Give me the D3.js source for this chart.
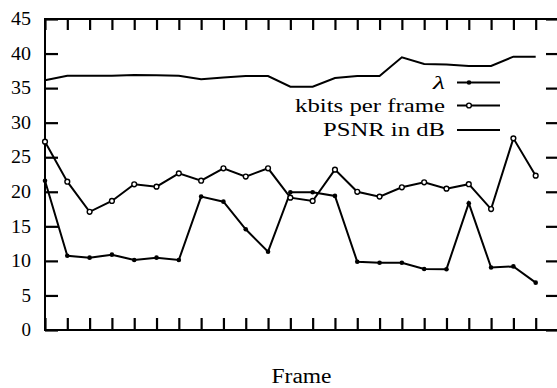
<!DOCTYPE html>
<html><head><meta charset="utf-8">
<script src="https://cdn.jsdelivr.net/npm/d3@7"></script>
<style>html,body{margin:0;padding:0;background:#fff;}svg{display:block;}text{font-family:"Liberation Serif","DejaVu Serif",serif;}</style>
</head><body>
<svg id="c" width="557" height="388"></svg>
<script>
const frames = [0,1,2,3,4,5,6,7,8,9,10,11,12,13,14,15,16,17,18,19,20,21,22];
const lambdaVals = [21.6,10.75,10.47,10.9,10.13,10.47,10.13,19.3,18.57,14.57,11.33,19.93,19.93,19.4,9.88,9.74,9.74,8.83,8.8,18.35,9.05,9.2,6.85];
const kbitsVals = [27.25,21.46,17.1,18.67,21.08,20.74,22.67,21.6,23.4,22.2,23.4,19.15,18.67,23.2,20.0,19.3,20.65,21.37,20.45,21.1,17.5,27.73,22.33];
const psnrVals = [36.15,36.8,36.8,36.8,36.9,36.85,36.8,36.3,36.55,36.75,36.75,35.2,35.2,36.45,36.75,36.75,39.45,38.5,38.4,38.2,38.2,39.55,39.55];
const yTicks = [0,5,10,15,20,25,30,35,40,45];
const xTicks = [0,1,2,3,4,5,6,7,8,9,10,11,12,13,14,15,16,17,18,19,20,21,22,23];
const seriesNames = ["\u03bb","kbits per frame","PSNR in dB"];

const svg = d3.select("#c");
const L = 45, R = 558, T = 19, B = 330;
const x = d3.scaleLinear().domain([0,23]).range([L,R]);
const y = d3.scaleLinear().domain([0,45]).range([B,T]);
const serif = "Liberation Serif, DejaVu Serif, serif";

// left axis with labels, inward ticks
const gl = svg.append("g").attr("transform",`translate(${L},0)`)
  .call(d3.axisLeft(y).tickValues(yTicks).tickSizeInner(-13).tickSizeOuter(0).tickPadding(14).tickFormat(d3.format("d")));
gl.select(".domain").remove();
gl.attr("font-family",serif).attr("font-size",18);
gl.selectAll("line").attr("stroke","#000").attr("stroke-width",2.2);
gl.selectAll("text").attr("font-family",serif).attr("font-size","18px").attr("fill","#000")
  .attr("textLength",d=>d>=10?20:9.5).attr("lengthAdjust","spacingAndGlyphs");

// right axis ticks (inward)
const gr = svg.append("g").attr("transform",`translate(${R},0)`)
  .call(d3.axisRight(y).tickValues(yTicks).tickSizeInner(-12).tickSizeOuter(0).tickFormat(""));
gr.select(".domain").remove();
gr.selectAll("line").attr("stroke","#000").attr("stroke-width",2.2);

// bottom ticks (inward, no labels)
const gb = svg.append("g").attr("transform",`translate(0,${B})`)
  .call(d3.axisBottom(x).tickValues(xTicks).tickSizeInner(-12).tickSizeOuter(0).tickFormat(""));
gb.select(".domain").remove();
gb.selectAll("line").attr("stroke","#000").attr("stroke-width",2.2);

// top ticks (inward)
const gt = svg.append("g").attr("transform",`translate(0,${T})`)
  .call(d3.axisTop(x).tickValues(xTicks).tickSizeInner(-11).tickSizeOuter(0).tickFormat(""));
gt.select(".domain").remove();
gt.selectAll("line").attr("stroke","#000").attr("stroke-width",2.2);

// frame
svg.append("rect").attr("x",L).attr("y",T).attr("width",R-L).attr("height",B-T)
  .attr("fill","none").attr("stroke","#000").attr("stroke-width",2);

const line = d3.line().x((d,i)=>x(frames[i])).y(d=>y(d));

svg.append("path").datum(psnrVals).attr("d",line).attr("fill","none").attr("stroke","#000").attr("stroke-width",2);
svg.append("path").datum(kbitsVals).attr("d",line).attr("fill","none").attr("stroke","#000").attr("stroke-width",2);
svg.append("path").datum(lambdaVals).attr("d",line).attr("fill","none").attr("stroke","#000").attr("stroke-width",2);

svg.append("g").selectAll("circle").data(lambdaVals).join("circle")
  .attr("cx",(d,i)=>x(frames[i])).attr("cy",d=>y(d)).attr("r",2.3).attr("fill","#000");
svg.append("g").selectAll("circle").data(kbitsVals).join("circle")
  .attr("cx",(d,i)=>x(frames[i])).attr("cy",d=>y(d)).attr("r",2.4).attr("fill","#fff").attr("stroke","#000").attr("stroke-width",1.4);

// legend
const legY = [82.5, 105.5, 130];
const legW = [12, 150, 122];
seriesNames.forEach((name,i)=>{
  const t = svg.append("text").attr("x",445).attr("y",legY[i]+6)
    .attr("text-anchor","end").attr("font-family",serif).attr("font-size","19px")
    .attr("textLength",legW[i]).attr("lengthAdjust","spacingAndGlyphs").text(name);
  if(i===0) t.attr("font-style","italic");
  svg.append("line").attr("x1",457).attr("x2",500).attr("y1",legY[i]).attr("y2",legY[i])
    .attr("stroke","#000").attr("stroke-width",2);
});
svg.append("circle").attr("cx",469).attr("cy",legY[0]).attr("r",2.3).attr("fill","#000");
svg.append("circle").attr("cx",469).attr("cy",legY[1]).attr("r",2.4).attr("fill","#fff").attr("stroke","#000").attr("stroke-width",1.4);

// x label
svg.append("text").attr("x",301.5).attr("y",383).attr("text-anchor","middle")
  .attr("font-family",serif).attr("font-size","20px").attr("textLength",60).attr("lengthAdjust","spacingAndGlyphs").text("Frame");
</script>
</body></html>
